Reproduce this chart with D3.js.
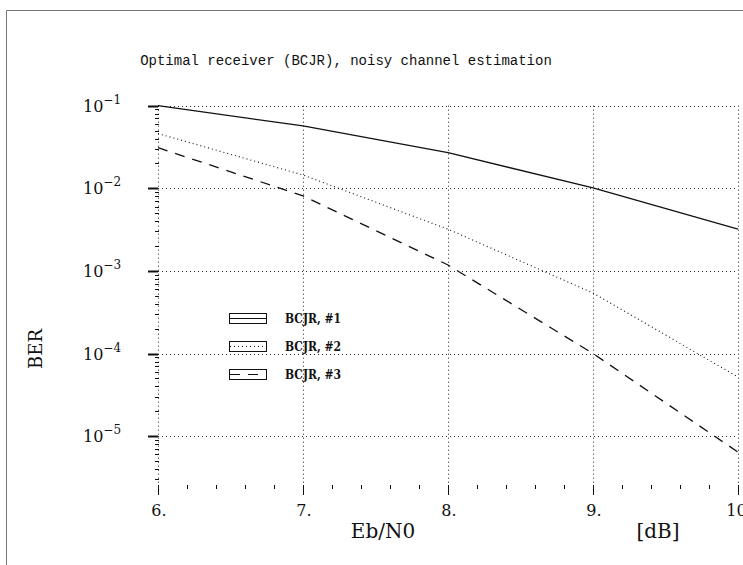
<!DOCTYPE html>
<html>
<head>
<meta charset="utf-8">
<script src="https://cdn.jsdelivr.net/npm/d3@7/dist/d3.min.js"></script>
<style>
  html, body { margin: 0; padding: 0; background: #fff; }
  svg { display: block; }
  text { font-family: "DejaVu Serif", serif; fill: #111; }
</style>
</head>
<body>
<svg id="chart" width="743" height="565"></svg>
<script>
// Eb/N0 points (dB) and bit error rate of each BCJR receiver variant
const ebn0 = [6, 7, 8, 9, 10];
const bcjr1 = [0.1, 0.057, 0.027, 0.0101, 0.0032];
const bcjr2 = [0.046, 0.0145, 0.0032, 0.00054, 0.000052];
const bcjr3 = [0.031, 0.0081, 0.00118, 0.0001, 0.0000064];
const seriesNames = ["BCJR,  #1", "BCJR,  #2", "BCJR,  #3"];
const xTickLabels = ["6.", "7.", "8.", "9.", "10."];
const yTickExponents = [-1, -2, -3, -4, -5];

const titleText = "Optimal receiver (BCJR), noisy channel estimation";
const xLabel = "Eb/N0";
const xUnit = "[dB]";
const yLabel = "BER";

const svg = d3.select("#chart");
const plotLeft = 158, plotRight = 738, plotTop = 105.7, plotBottom = 485;

const x = d3.scaleLinear().domain([6, 10]).range([plotLeft, plotRight]);
const y = d3.scaleLog().domain([1e-1, 2.56e-6]).range([plotTop, plotBottom]);

// outer frame
svg.append("path")
  .attr("d", "M6.5,565 V10.5 H743")
  .attr("fill", "none").attr("stroke", "#777").attr("stroke-width", 1);

// title
svg.append("text")
  .attr("x", 346).attr("y", 65)
  .attr("text-anchor", "middle")
  .style("font-family", "'Liberation Mono', monospace")
  .style("font-size", "14px")
  .text(titleText);

const grid = svg.append("g")
  .attr("stroke", "#222").attr("stroke-width", 1)
  .attr("stroke-dasharray", "1,3");

// horizontal grid at each decade
yTickExponents.forEach(e => {
  const py = Math.round(y(Math.pow(10, e))) + 0.5;
  grid.append("line")
    .attr("x1", plotLeft).attr("x2", plotRight)
    .attr("y1", py).attr("y2", py);
});
// vertical grid at each dB value (the first one doubles as the y axis line)
ebn0.forEach(v => {
  const px = Math.round(x(v)) + 0.5;
  grid.append("line")
    .attr("x1", px).attr("x2", px)
    .attr("y1", plotTop).attr("y2", plotBottom);
});

// y axis ticks: major at decades, minor at 2..9 within each decade
const yAxis = svg.append("g").attr("stroke", "#111");
const minorY = [];
for (let e = -6; e <= -2; e++) {
  for (let m = 2; m <= 9; m++) {
    const v = m * Math.pow(10, e);
    if (v <= 1e-1 && v >= y.domain()[1]) minorY.push(v);
  }
}
yAxis.selectAll("line.minor").data(minorY).join("line")
  .attr("class", "minor")
  .attr("x1", plotLeft - 3).attr("x2", plotLeft + 1)
  .attr("y1", d => Math.round(y(d)) + 0.5)
  .attr("y2", d => Math.round(y(d)) + 0.5)
  .attr("stroke-width", 1);
yAxis.selectAll("line.major").data(yTickExponents).join("line")
  .attr("class", "major")
  .attr("x1", plotLeft - 10).attr("x2", plotLeft)
  .attr("y1", d => Math.round(y(Math.pow(10, d))) + 0.5)
  .attr("y2", d => Math.round(y(Math.pow(10, d))) + 0.5)
  .attr("stroke-width", 2);

// y tick labels as 10 with superscript exponent
const yLab = svg.append("g");
yTickExponents.forEach(e => {
  const t = yLab.append("text")
    .attr("x", 83).attr("y", y(Math.pow(10, e)) + 6)
    .style("font-size", "16px");
  t.append("tspan").text("10");
  t.append("tspan").attr("dy", -8).style("font-size", "12px").text("\u2212" + Math.abs(e));
});

// x axis ticks: major at each dB, minor every 0.2 dB
const xAxis = svg.append("g").attr("stroke", "#111").attr("stroke-width", 1);
const minorX = d3.range(6.2, 10, 0.2).filter(v => Math.abs(v - Math.round(v)) > 1e-6);
xAxis.selectAll("line.minor").data(minorX).join("line")
  .attr("x1", d => Math.round(x(d)) + 0.5).attr("x2", d => Math.round(x(d)) + 0.5)
  .attr("y1", plotBottom).attr("y2", plotBottom + 4);
xAxis.selectAll("line.major").data(ebn0).join("line")
  .attr("x1", d => Math.round(x(d)) + 0.5).attr("x2", d => Math.round(x(d)) + 0.5)
  .attr("y1", plotBottom).attr("y2", plotBottom + 10);

svg.append("g").selectAll("text").data(ebn0).join("text")
  .attr("x", d => x(d) + 1).attr("y", plotBottom + 31)
  .attr("text-anchor", "middle")
  .style("font-size", "16px")
  .text((d, i) => xTickLabels[i]);

// axis titles
svg.append("text").attr("x", 383).attr("y", 538)
  .attr("text-anchor", "middle").style("font-size", "20px").text(xLabel);
svg.append("text").attr("x", 658).attr("y", 538)
  .attr("text-anchor", "middle").style("font-size", "20px").text(xUnit);
svg.append("text")
  .attr("transform", "translate(42,349) rotate(-90)")
  .attr("text-anchor", "middle").style("font-size", "18px").text(yLabel);

// curves
const styles = [null, "1,3", "10,8"];
const widths = [1.3, 1.1, 1.3];
const all = [bcjr1, bcjr2, bcjr3];
const line = d3.line().x(d => x(d[0])).y(d => y(d[1]));
const plot = svg.append("g");
all.forEach((s, i) => {
  plot.append("path")
    .datum(ebn0.map((v, j) => [v, s[j]]))
    .attr("d", line)
    .attr("fill", "none")
    .attr("stroke", "#111")
    .attr("stroke-width", widths[i])
    .attr("stroke-dasharray", styles[i]);
});

// legend: outlined sample box with the series line through it
const legend = svg.append("g");
seriesNames.forEach((name, i) => {
  const gy = 313 + i * 28;
  legend.append("rect")
    .attr("x", 229.5).attr("y", gy + 0.5).attr("width", 37).attr("height", 10)
    .attr("fill", "none").attr("stroke", "#111").attr("stroke-width", 1);
  legend.append("line")
    .attr("x1", 230).attr("x2", 266)
    .attr("y1", gy + 5.5).attr("y2", gy + 5.5)
    .attr("stroke", "#111").attr("stroke-width", 1)
    .attr("stroke-dasharray", styles[i]);
  legend.append("text")
    .attr("x", 285).attr("y", gy + 10)
    .style("font-family", "'DejaVu Serif Condensed', 'DejaVu Serif', serif")
    .style("font-stretch", "condensed")
    .style("font-size", "12px").style("font-weight", "bold")
    .text(name);
});
</script>
</body>
</html>
